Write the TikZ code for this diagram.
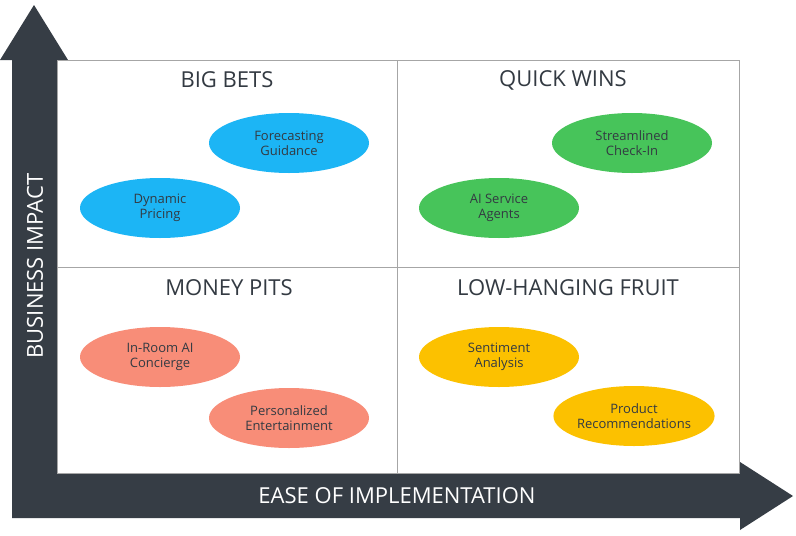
\documentclass[tikz,border=0pt]{standalone}
\usepackage{fontspec}
\setmainfont{Open Sans}
\usetikzlibrary{shapes.geometric}
\definecolor{axis}{HTML}{363D45}
\definecolor{bblue}{HTML}{1CB5F5}
\definecolor{ggreen}{HTML}{47C45A}
\definecolor{ssalmon}{HTML}{F88D78}
\definecolor{yyellow}{HTML}{FCC100}
\definecolor{txt}{HTML}{333A42}
\tikzset{
 bub/.style={ellipse,draw=none,minimum width=160pt,minimum height=60pt,align=center,font=\fontsize{13pt}{15pt}\selectfont,text=txt,inner sep=0pt},
 ttl/.style={font=\fontsize{22pt}{24pt}\selectfont,text=txt},
 axl/.style={font=\fontsize{22pt}{24pt}\selectfont,text=white}
}
\begin{document}
\begin{tikzpicture}[x=1pt,y=-1pt]
\useasboundingbox (0,0) rectangle (796,536);
\fill[white] (0,0) rectangle (796,536);
% axes
\fill[axis] (12,518) -- (12,60) -- (0,60) -- (34,5) -- (68,60) -- (57,60) -- (57,473) -- (740,473) -- (740,462) -- (793,496) -- (740,530) -- (740,518) -- cycle;
% grid
\draw[gray!70,line width=0.8pt] (57,60) rectangle (739,473);
\draw[gray!70,line width=0.8pt] (397,60) -- (397,473);
\draw[gray!70,line width=0.8pt] (57,267) -- (739,267);
\node[axl,rotate=90] (ya) at (35,266) {BUSINESS IMPACT};
\node[axl] (xa) at (397,496) {EASE OF IMPLEMENTATION};
\node[ttl] (t1) at (227,80) {BIG BETS};
\node[ttl] (t2) at (563,80) {QUICK WINS};
\node[ttl] (t3) at (229,288) {MONEY PITS};
\node[ttl] (t4) at (568,288) {LOW-HANGING FRUIT};
\node[bub,fill=bblue] (fg) at (289,143) {Forecasting\\Guidance};
\node[bub,fill=bblue] (dp) at (160,208) {Dynamic\\Pricing};
\node[bub,fill=ggreen] (sc) at (632,143) {Streamlined\\Check-In};
\node[bub,fill=ggreen] (ai) at (499,208) {AI Service\\Agents};
\node[bub,fill=ssalmon] (ir) at (160,357) {In-Room AI\\Concierge};
\node[bub,fill=ssalmon] (pe) at (289,418) {Personalized\\Entertainment};
\node[bub,fill=yyellow] (sa) at (499,357) {Sentiment\\Analysis};
\node[bub,fill=yyellow] (pr) at (634,416) {Product\\Recommendations};
\end{tikzpicture}
\end{document}
